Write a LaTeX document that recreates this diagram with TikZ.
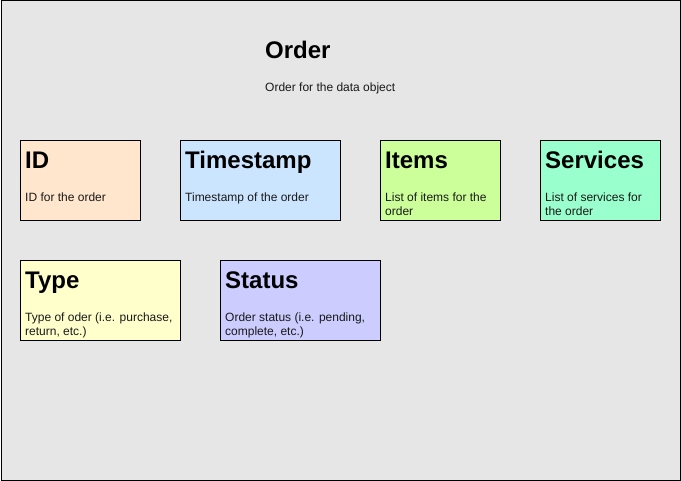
\documentclass[tikz,border=0pt]{standalone}
\usepackage{fontspec}
\setmainfont{Liberation Sans}
\definecolor{bg}{HTML}{E6E6E6}
\definecolor{cid}{HTML}{FFE6CC}
\definecolor{cts}{HTML}{CCE5FF}
\definecolor{citems}{HTML}{CCFF99}
\definecolor{csrv}{HTML}{99FFCC}
\definecolor{ctype}{HTML}{FFFFCC}
\definecolor{cstat}{HTML}{CCCCFF}
\tikzset{
  field/.style={draw=black, line width=1pt, inner sep=0pt, anchor=north west},
  heading/.style={anchor=base west, inner sep=0pt, font=\fontsize{24}{28}\selectfont\bfseries},
  desc/.style={anchor=base west, inner sep=0pt, align=left, font=\fontsize{12}{14}\selectfont, text=black!90},
}
\begin{document}
\begin{tikzpicture}[x=1pt,y=-1pt]
\useasboundingbox (0,0) rectangle (681,481);
\node[draw=black, fill=bg, line width=1pt, inner sep=0pt, minimum width=679pt, minimum height=479pt, anchor=north west] (frame) at (0.5,0.5) {};
\node[heading] (title) at (265,59) {Order};
\node[desc] (subtitle) at (265,92) {Order for the data object};

\node[field, fill=cid, minimum width=120pt, minimum height=80pt] (id) at (20,140) {};
\node[heading] (idh) at (25,169) {ID};
\node[desc] (idd) at (25,202) {ID for the order};

\node[field, fill=cts, minimum width=160pt, minimum height=80pt] (ts) at (180,140) {};
\node[heading] (tsh) at (185,169) {Timestamp};
\node[desc] (tsd) at (185,202) {Timestamp of the order};

\node[field, fill=citems, minimum width=120pt, minimum height=80pt] (items) at (380,140) {};
\node[heading] (itemsh) at (385,169) {Items};
\node[desc] (itemsd) at (385,216) {List of items for the\\order};

\node[field, fill=csrv, minimum width=120pt, minimum height=80pt] (srv) at (540,140) {};
\node[heading] (srvh) at (545,169) {Services};
\node[desc] (srvd) at (545,216) {List of services for\\the order};

\node[field, fill=ctype, minimum width=160pt, minimum height=80pt] (type) at (20,260) {};
\node[heading] (typeh) at (25,289) {Type};
\node[desc] (typed) at (25,336) {Type of oder (i.e. purchase,\\return, etc.)};

\node[field, fill=cstat, minimum width=160pt, minimum height=80pt] (stat) at (220,260) {};
\node[heading] (stath) at (225,289) {Status};
\node[desc] (statd) at (225,336) {Order status (i.e. pending,\\complete, etc.)};
\end{tikzpicture}
\end{document}
